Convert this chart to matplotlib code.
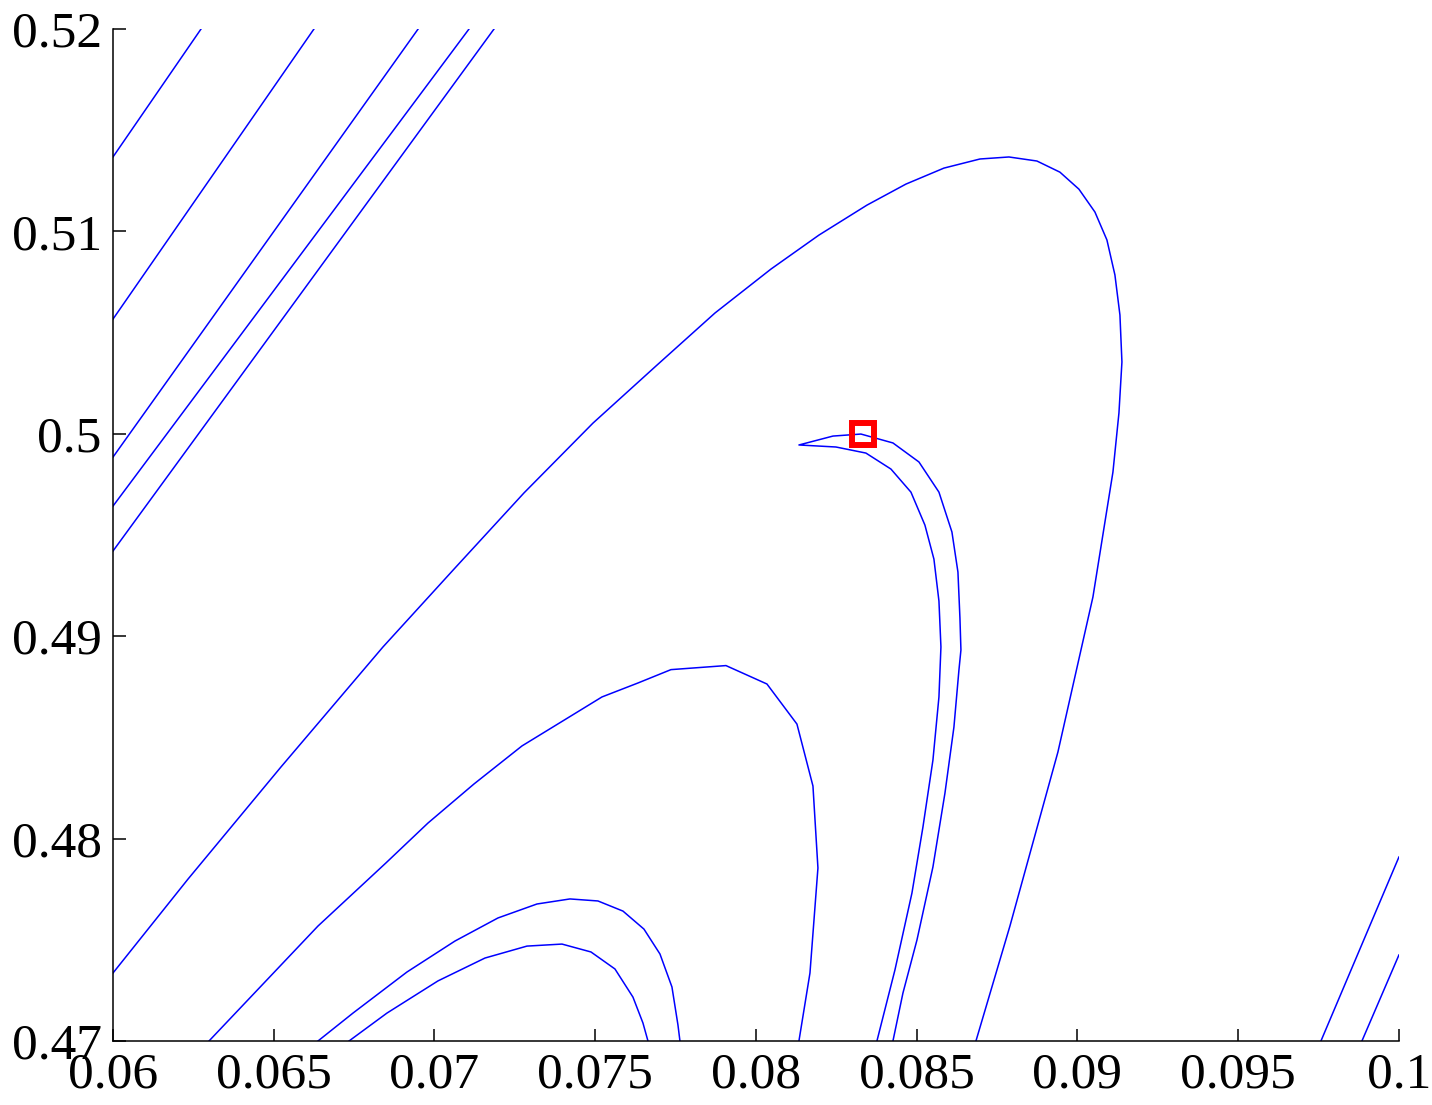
import matplotlib
matplotlib.use('Agg')
import matplotlib.pyplot as plt

# contour lines (x, y pairs in data units)
line_a_x = [0.06, 0.062737]
line_a_y = [0.51368, 0.52]
line_b_x = [0.06, 0.06625]
line_b_y = [0.50567, 0.52]
line_c_x = [0.06, 0.06949]
line_c_y = [0.49885, 0.52]
line_d_x = [0.06, 0.071073]
line_d_y = [0.49643, 0.52]
line_e_x = [0.06, 0.071851]
line_e_y = [0.49421, 0.52]

big_loop_x = [0.06, 0.062333, 0.065225, 0.068398, 0.070638, 0.072784, 0.074930,
              0.076889, 0.078725, 0.080466, 0.081959, 0.083452, 0.084665, 0.085847,
              0.086967, 0.087869, 0.088740, 0.089455, 0.090046, 0.090544, 0.090917,
              0.091166, 0.091322, 0.091384, 0.091291, 0.091104, 0.090482, 0.089393,
              0.087900, 0.086843]
big_loop_y = [0.47336, 0.47800, 0.48354, 0.48947, 0.49337, 0.49708, 0.50053,
              0.50335, 0.50597, 0.50814, 0.50982, 0.51130, 0.51234, 0.51313,
              0.51358, 0.51368, 0.51348, 0.51293, 0.51209, 0.51096, 0.50958,
              0.50785, 0.50587, 0.50355, 0.50103, 0.49811, 0.49194, 0.48428,
              0.47568, 0.47]

mid_loop_x = [0.062986, 0.066376, 0.068491, 0.069798, 0.071229, 0.072722, 0.074090,
              0.075210, 0.076330, 0.077356, 0.079067, 0.080342, 0.081275, 0.081773,
              0.081928, 0.081680, 0.081337]
mid_loop_y = [0.47, 0.47568, 0.47880, 0.48077, 0.48270, 0.48458, 0.48591,
              0.48700, 0.48769, 0.48835, 0.48855, 0.48764, 0.48566, 0.48260,
              0.47855, 0.47336, 0.47]

outer_arc_x = [0.066376, 0.067465, 0.069145, 0.070638, 0.071975, 0.073188, 0.074214,
               0.075085, 0.075863, 0.076516, 0.077014, 0.077387, 0.077574, 0.077636]
outer_arc_y = [0.47, 0.47138, 0.47341, 0.47494, 0.47608, 0.47677, 0.47702,
               0.47692, 0.47642, 0.47553, 0.47430, 0.47267, 0.47079, 0.47]

inner_arc_x = [0.067341, 0.068522, 0.070109, 0.071571, 0.072877, 0.073966, 0.074868,
               0.075614, 0.076174, 0.076485, 0.076641]
inner_arc_y = [0.47, 0.47138, 0.47297, 0.47410, 0.47469, 0.47479, 0.47440,
               0.47356, 0.47217, 0.47089, 0.47]

hook_x = [0.083763, 0.084323, 0.084852, 0.085194, 0.085505, 0.085692, 0.085754,
          0.085692, 0.085536, 0.085256, 0.084821, 0.084199, 0.083421, 0.082488,
          0.081337, 0.082395, 0.083266, 0.084261, 0.085070, 0.085692, 0.086096,
          0.086283, 0.086345, 0.086376, 0.086314, 0.086158, 0.085879, 0.085505,
          0.085008, 0.084572, 0.084261]
hook_y = [0.47, 0.47351, 0.47731, 0.48057, 0.48388, 0.48700, 0.48947,
          0.49174, 0.49381, 0.49549, 0.49712, 0.49826, 0.49905, 0.49935,
          0.49945, 0.49989, 0.49999, 0.49955, 0.49861, 0.49712, 0.49515,
          0.49317, 0.49090, 0.48932, 0.48833, 0.48551, 0.48225, 0.47860,
          0.47499, 0.47237, 0.47]

line_f_x = [0.097574, 0.1]
line_f_y = [0.47, 0.47909]
line_g_x = [0.098849, 0.1]
line_g_y = [0.47, 0.47425]

point_x = [0.08333]
point_y = [0.5]

xticks = [0.06, 0.065, 0.07, 0.075, 0.08, 0.085, 0.09, 0.095, 0.1]
xticklabels = ['0.06', '0.065', '0.07', '0.075', '0.08', '0.085', '0.09', '0.095', '0.1']
yticks = [0.47, 0.48, 0.49, 0.5, 0.51, 0.52]
yticklabels = ['0.47', '0.48', '0.49', '0.5', '0.51', '0.52']

plt.rcParams['font.family'] = ['Liberation Serif', 'DejaVu Serif']

fig = plt.figure(figsize=(14.32, 11.05), dpi=100)
ax = fig.add_axes([0.0789, 0.0579, 0.8980, 0.9158])

lines = [(line_a_x, line_a_y), (line_b_x, line_b_y), (line_c_x, line_c_y),
         (line_d_x, line_d_y), (line_e_x, line_e_y), (big_loop_x, big_loop_y),
         (mid_loop_x, mid_loop_y), (outer_arc_x, outer_arc_y),
         (inner_arc_x, inner_arc_y), (hook_x, hook_y),
         (line_f_x, line_f_y), (line_g_x, line_g_y)]
for xs, ys in lines:
	ax.plot(xs, ys, color='#0000ff', linewidth=1.1)

ax.plot(point_x, point_y, marker='s', markersize=16, markerfacecolor='none',
        markeredgecolor='#ff0000', markeredgewidth=4.3, linestyle='none', zorder=5)

ax.set_xlim(0.06, 0.1)
ax.set_ylim(0.47, 0.52)
ax.set_xticks(xticks)
ax.set_xticklabels(xticklabels)
ax.set_yticks(yticks)
ax.set_yticklabels(yticklabels)
ax.tick_params(direction='in', length=9, width=1.1, labelsize=37)
ax.tick_params(axis='x', pad=8)
ax.tick_params(axis='y', pad=8)
ax.spines['top'].set_visible(False)
ax.spines['right'].set_visible(False)
ax.spines['left'].set_linewidth(1.1)
ax.spines['bottom'].set_linewidth(1.1)

plt.savefig('out.png', dpi=100)
